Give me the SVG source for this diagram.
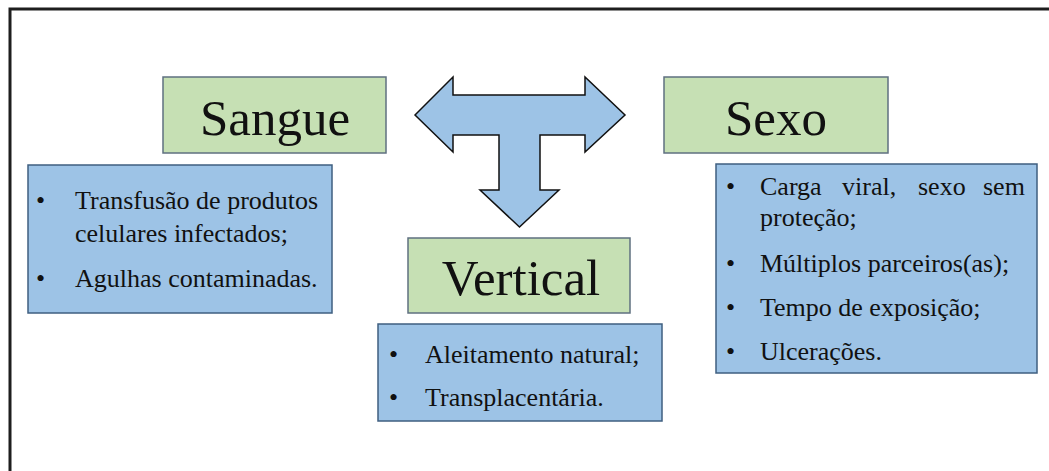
<svg xmlns="http://www.w3.org/2000/svg" width="1049" height="471" viewBox="0 0 1049 471">
<style>
.title{font-family:"Liberation Serif","Times New Roman",serif;font-size:51px;fill:#111;text-anchor:middle}
.item{font-family:"Liberation Serif","Times New Roman",serif;font-size:26px;fill:#111}
.green{fill:#c6e0b4;stroke:#5f7080;stroke-width:1.5}
.blue{fill:#9dc3e6;stroke:#3f5f80;stroke-width:1.5}
</style>
<rect width="1049" height="471" fill="#ffffff"/>
<path d="M10,471 V9 H1049" fill="none" stroke="#1e1e1e" stroke-width="3"/>
<g id="connectors">
<polygon points="415,115 453,77 453,95 585,95 585,77 625,115 585,152 585,135 540,135 540,190 559,190 519.5,227 480,190 499,190 499,135 453,135 453,152" fill="#9dc3e6" stroke="#111" stroke-width="1.5" stroke-linejoin="miter"/>
</g>
<g id="sangue">
<rect class="green" x="163" y="77" width="223" height="76"/>
<text class="title" x="275" y="135">Sangue</text>
</g>
<g id="sangue-list">
<rect class="blue" x="28" y="165" width="304" height="148"/>
<text class="item" x="36" y="209">•</text>
<text class="item" x="75" y="209">Transfusão de produtos</text>
<text class="item" x="75" y="242">celulares infectados;</text>
<text class="item" x="36" y="287">•</text>
<text class="item" x="75" y="287">Agulhas contaminadas.</text>
</g>
<g id="sexo">
<rect class="green" x="664" y="77" width="224" height="76"/>
<text class="title" x="776" y="135">Sexo</text>
</g>
<g id="sexo-list">
<rect class="blue" x="716" y="164" width="321" height="209"/>
<text class="item" x="726" y="195">•</text>
<text class="item" y="195"><tspan x="760">Carga</tspan><tspan x="842">viral,</tspan><tspan x="918">sexo</tspan><tspan x="983">sem</tspan></text>
<text class="item" x="760" y="226">proteção;</text>
<text class="item" x="726" y="272">•</text>
<text class="item" x="760" y="272">Múltiplos parceiros(as);</text>
<text class="item" x="726" y="316">•</text>
<text class="item" x="760" y="316">Tempo de exposição;</text>
<text class="item" x="726" y="360">•</text>
<text class="item" x="760" y="360">Ulcerações.</text>
</g>
<g id="vertical">
<rect class="green" x="408" y="238" width="222" height="75"/>
<text class="title" x="521" y="295">Vertical</text>
</g>
<g id="vertical-list">
<rect class="blue" x="378" y="324" width="284" height="97"/>
<text class="item" x="389" y="363">•</text>
<text class="item" x="425" y="363">Aleitamento natural;</text>
<text class="item" x="389" y="406">•</text>
<text class="item" x="425" y="406">Transplacentária.</text>
</g>
</svg>
